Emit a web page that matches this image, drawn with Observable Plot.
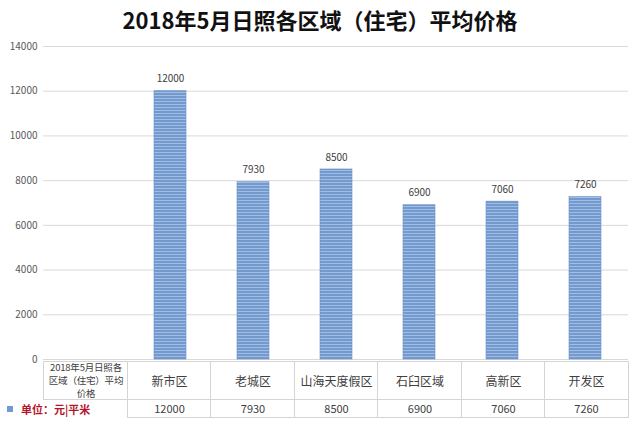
<!DOCTYPE html>
<html><head><meta charset="utf-8">
<script src="https://cdn.jsdelivr.net/npm/d3@7"></script>
<script src="https://cdn.jsdelivr.net/npm/@observablehq/plot@0.6"></script>
<style>
body{margin:0;background:#fff;font-family:"Noto Sans CJK SC","Noto Sans",sans-serif;}
#wrap{position:relative;width:640px;height:424px;overflow:hidden;background:#fff;}
#title{height:36px;box-sizing:border-box;padding-top:4px;text-align:center;font-size:22px;line-height:30px;font-weight:bold;color:#111;}
#chart{position:absolute;left:0;top:36px;}
.cell{position:absolute;box-sizing:border-box;display:flex;align-items:center;justify-content:center;text-align:center;color:#404040;white-space:nowrap;}
</style></head><body>
<div id="wrap"><div id="title"></div><div id="chart"></div></div>
<script>
const titleText = "2018年5月日照各区域（住宅）平均价格";
const categories = ["新市区", "老城区", "山海天度假区", "石臼区域", "高新区", "开发区"];
const prices = [12000, 7930, 8500, 6900, 7060, 7260];
const yTicks = [0, 2000, 4000, 6000, 8000, 10000, 12000, 14000];
const tableLabelLines = ["2018年5月日照各", "区域（住宅）平均", "价格"];
const tableLabel = tableLabelLines.join("");
const unitLabel = "单位：元|平米";

const data = categories.map((c, i) => ({category: c, price: prices[i]}));

document.getElementById("title").textContent = titleText;

const chart = Plot.plot({
  width: 640,
  height: 335,
  marginTop: 10,
  marginBottom: 12,
  marginLeft: 43,
  marginRight: 12,
  style: {fontFamily: '"Noto Sans CJK SC","Noto Sans",sans-serif', background: "transparent", overflow: "visible"},
  x: {domain: [tableLabel, ...categories], paddingInner: 0.62, paddingOuter: 0.31, axis: null},
  y: {domain: [0, 14000], ticks: yTicks},
  marks: [
    Plot.gridY(yTicks, {stroke: "#d9d9d9", strokeOpacity: 1}),
    Plot.axisY(yTicks, {tickSize: 0, tickPadding: 6, fontSize: 10, color: "#595959", tickFormat: d => String(d), label: null}),
    Plot.barY(data, {x: "category", y: "price", fill: "url(#barStripes)", stroke: "#6a90c8", strokeWidth: 0.6}),
    Plot.text(data, {x: "category", y: "price", text: d => String(d.price), dy: -12, fontSize: 10, fill: "#404040"})
  ]
});

d3.select(chart).insert("defs", ":first-child").html(
  `<pattern id="barStripes" patternUnits="userSpaceOnUse" width="6" height="3">
     <rect width="6" height="3" fill="#739acf"></rect>
     <rect y="2" width="6" height="1" fill="#a3bce2"></rect>
   </pattern>`);

document.getElementById("chart").appendChild(chart);

// data table below the chart, aligned to the x band scale
const xs = chart.scale("x");
const dom = xs.domain;
const r0 = xs.range[0], r1 = xs.range[1];
const step = (r1 - r0) / dom.length;
const wrap = document.getElementById("wrap");
const top1 = 361, h1 = 39, top2 = 400, h2 = 18;
const border = "1px solid #d4d4d4";
function cell(left, top, w, h, html, css) {
  const d = document.createElement("div");
  d.className = "cell";
  Object.assign(d.style, {left: left + "px", top: top + "px", width: w + "px", height: h + "px"}, css || {});
  d.innerHTML = html;
  wrap.appendChild(d);
  return d;
}
dom.forEach((d, i) => {
  const left = Math.round(r0 + i * step);
  const right = Math.round(r0 + (i + 1) * step);
  const w = right - left;
  const isLast = i === dom.length - 1;
  if (i === 0) {
    cell(left, top1, w + 1, h1, tableLabelLines.join("<br>"),
      {fontSize: "9.5px", lineHeight: "13px", letterSpacing: "-0.2px", borderLeft: border, borderTop: border, borderBottom: border});
    const u = cell(0, top2, w + left + 1, h2, "", {justifyContent: "flex-start", paddingLeft: "7px"});
    u.innerHTML = `<span style="display:inline-block;width:6px;height:6px;background:#739acf;margin-right:8px"></span><span style="color:#b3162c;font-weight:bold;font-size:11px">${unitLabel}</span>`;
  } else {
    const k = i - 1;
    cell(left, top1, w + 1, h1, categories[k],
      {fontSize: "12px", borderLeft: border, borderTop: border, borderBottom: border, borderRight: isLast ? border : "none"});
    cell(left, top2 - 1, w + 1, h2 + 1, String(prices[k]),
      {fontSize: "11px", borderLeft: border, borderBottom: border, borderRight: isLast ? border : "none"});
  }
});
</script>
</body></html>
